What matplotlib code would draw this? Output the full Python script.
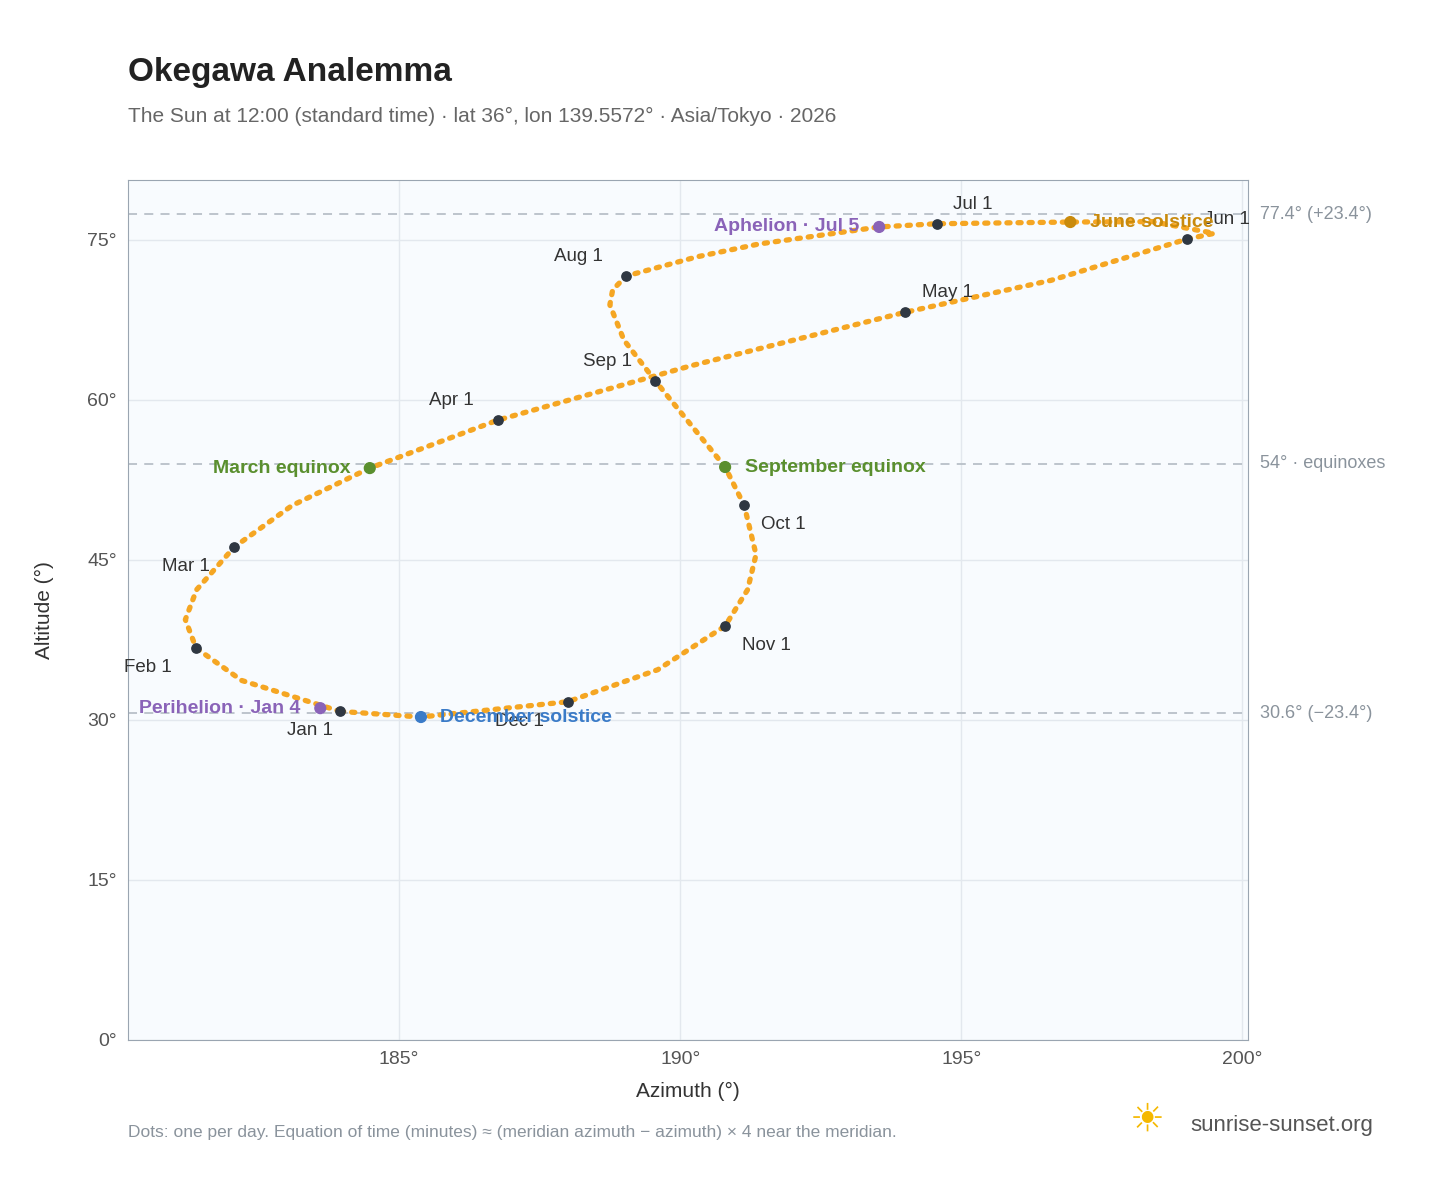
import matplotlib
matplotlib.use("Agg")
import matplotlib.pyplot as plt

plt.rcParams["font.family"] = ["Liberation Sans", "DejaVu Sans"]

# (azimuth deg, altitude deg), Jan 1 -> Dec 31
path_az = [183.95, 182.2, 181.39, 181.2, 181.4, 182.07, 183.1, 184.48, 186.76, 190.2, 194.0,
           196.6, 199.02, 199.5, 198.4, 196.94, 194.56, 193.54, 191.4, 190.3, 189.04, 188.8,
           188.75, 189.0, 189.56, 190.8, 191.14, 191.35, 191.2, 190.8, 189.6, 188.0, 185.39, 183.95]
path_alt = [30.8, 33.7, 36.74, 39.4, 42.2, 46.2, 50.1, 53.6, 58.1, 63.2, 68.2,
            71.2, 75.07, 75.6, 76.7, 76.66, 76.5, 76.2, 74.6, 73.4, 71.6, 70.3,
            68.9, 65.6, 61.76, 53.7, 50.1, 45.5, 42.2, 38.8, 34.7, 31.7, 30.27, 30.8]

months = ["Jan 1", "Feb 1", "Mar 1", "Apr 1", "May 1", "Jun 1", "Jul 1", "Aug 1",
          "Sep 1", "Oct 1", "Nov 1", "Dec 1"]
month_az = [183.95, 181.39, 182.07, 186.76, 194.0, 199.02, 194.56, 189.04, 189.56, 191.14, 190.8, 188.0]
month_alt = [30.83, 36.74, 46.2, 58.1, 68.2, 75.07, 76.5, 71.6, 61.76, 50.14, 38.8, 31.68]
month_off = [(-38, -14), (-52, -14), (-52, -14), (-50, 14), (12, 14), (12, 14), (12, 14),
             (-52, 14), (-52, 14), (12, -14), (12, -14), (-52, -14)]

events = ["March equinox", "June solstice", "September equinox", "December solstice",
          "Perihelion · Jan 4", "Aphelion · Jul 5"]
event_az = [184.48, 196.94, 190.8, 185.39, 183.6, 193.54]
event_alt = [53.6, 76.66, 53.7, 30.27, 31.1, 76.2]
event_col = ["#5a8f2e", "#c98a0c", "#5a8f2e", "#3a7bc8", "#8a63b8", "#8a63b8"]
event_ha = ["right", "left", "left", "left", "right", "right"]

ref_alt = [77.4, 54.0, 30.6]
ref_lab = ["77.4° (+23.4°)", "54° · equinoxes", "30.6° (−23.4°)"]

fig = plt.figure(figsize=(14.48, 11.88), dpi=100)
ax = fig.add_axes([128 / 1448, 1 - 1040 / 1188, 1120 / 1448, 860 / 1188])
ax.set_facecolor("#f8fbfe")
ax.set_xlim(180.18, 200.1)
ax.set_ylim(0, 80.6)
ax.set_xticks([185, 190, 195, 200])
ax.set_xticklabels(["185°", "190°", "195°", "200°"])
ax.set_yticks([0, 15, 30, 45, 60, 75])
ax.set_yticklabels(["0°", "15°", "30°", "45°", "60°", "75°"])
ax.grid(color="#e3e8ee", lw=1)
ax.set_axisbelow(True)
for s in ax.spines.values():
    s.set_color("#9aa5b1")
ax.tick_params(colors="#555", labelsize=14, length=0, pad=8)
ax.set_xlabel("Azimuth (°)", fontsize=15, color="#333", labelpad=10)
ax.set_ylabel("Altitude (°)", fontsize=15, color="#333", labelpad=24)

for a, lab in zip(ref_alt, ref_lab):
    ax.axhline(a, color="#b8c0c8", ls=(0, (5, 4)), lw=1.3)
    ax.annotate(lab, (1.0, a), xycoords=("axes fraction", "data"), xytext=(9, 0),
                textcoords="offset points", va="center", fontsize=13, color="#8a939c",
                annotation_clip=False)

ax.plot(path_az, path_alt, color="#f5a623", lw=3.8, ls=(0, (0.6, 1.5)), dash_capstyle="round")
ax.scatter(month_az, month_alt, s=45, color="#2f3742", zorder=3)
for m, x, y, o in zip(months, month_az, month_alt, month_off):
    ax.annotate(m, (x, y), xytext=o, textcoords="offset points", fontsize=13.5,
                color="#333", va="center", annotation_clip=False)
ax.scatter(event_az, event_alt, s=60, color=event_col, zorder=4)
for e, x, y, c, ha in zip(events, event_az, event_alt, event_col, event_ha):
    dx = 14 if ha == "left" else -14
    ax.annotate(e, (x, y), xytext=(dx, 0), textcoords="offset points", fontsize=14,
                fontweight="bold", color=c, ha=ha, va="center", annotation_clip=False)

fig.text(128 / 1448, 1 - 72 / 1188, "Okegawa Analemma", fontsize=24, fontweight="bold",
         color="#222", va="center")
fig.text(128 / 1448, 1 - 116 / 1188,
         "The Sun at 12:00 (standard time) · lat 36°, lon 139.5572° · Asia/Tokyo · 2026",
         fontsize=15, color="#666", va="center")
fig.text(128 / 1448, 1 - 1133 / 1188,
         "Dots: one per day. Equation of time (minutes) ≈ (meridian azimuth − azimuth) × 4 near the meridian.",
         fontsize=12.5, color="#8a939c", va="center")
fig.text(1190 / 1448, 1 - 1125 / 1188, "sunrise-sunset.org", fontsize=16, color="#555", va="center")
fig.text(1147 / 1448, 1 - 1120 / 1188, "☀", fontsize=28, color="#f5b800", ha="center", va="center",
         family=["DejaVu Sans"])

fig.savefig("out.png", dpi=100)
